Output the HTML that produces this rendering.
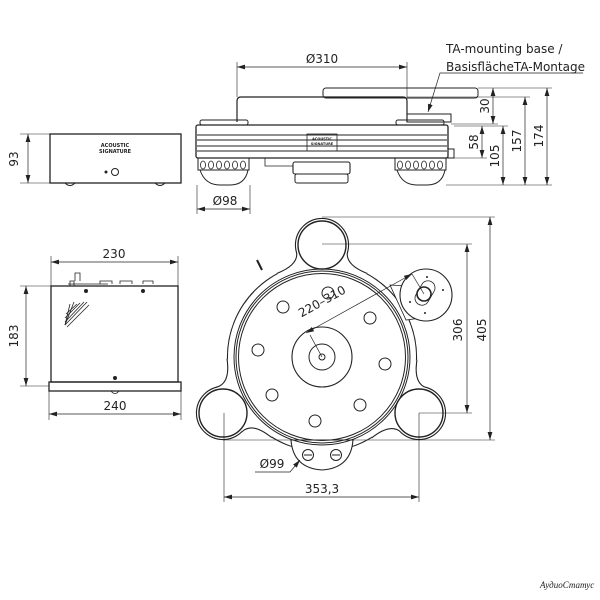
<!DOCTYPE html>
<html><head><meta charset="utf-8"><style>
html,body{margin:0;padding:0;background:#fff;}
svg{display:block;font-family:"DejaVu Sans","Liberation Sans",sans-serif;}
text{fill:#222;}
</style></head><body>
<svg width="600" height="600" viewBox="0 0 600 600" xmlns="http://www.w3.org/2000/svg">
<defs>
<marker id="a" viewBox="0 0 10 6" refX="10" refY="3" markerWidth="8" markerHeight="5" orient="auto-start-reverse" markerUnits="userSpaceOnUse"><path d="M0,0L10,3L0,6z" fill="#222"/></marker>
<path id="neck" d="M-25,-106 Q-22,-92 -45,-83 L45,-83 Q22,-92 25,-106 Z"/>
</defs>
<g stroke="#222" fill="none" stroke-width="1">
<rect x="50" y="134" width="131" height="49" stroke-width="1.3"/>
<path d="M65,183 q5,5 10,0 M155,183 q5,5 10,0"/>
<circle cx="115" cy="172" r="3.5"/><circle cx="106" cy="172" r="1" fill="#222"/>
<line x1="20" y1="134" x2="50" y2="134" stroke-width=".6"/>
<line x1="20" y1="183" x2="50" y2="183" stroke-width=".6"/>
<line x1="28" y1="134" x2="28" y2="183" marker-start="url(#a)" marker-end="url(#a)" stroke-width=".7"/>
<rect x="51" y="286" width="127" height="96" stroke-width="1.3"/>
<rect x="49" y="382" width="132" height="9" stroke-width="1.3"/>
<path d="M70,286 v-5 h4 v5 M75,281 v-8 h5 v8" stroke-width=".8"/>
<path d="M68,284 h40 M100,284 v-3 h12 v3 M120,284 v-3 h12 v3 M143,284 v-3 h10 v3" stroke-width=".8"/>
<circle cx="86" cy="291" r="1.5" fill="#222"/><circle cx="143" cy="291" r="1.5" fill="#222"/><circle cx="115" cy="378" r="1.5" fill="#222"/>
<path d="M111,391 q4,5 8,0" stroke-width=".8"/>
<g stroke-width=".8"><line x1="65" y1="325" x2="87" y2="302"/><line x1="65" y1="322" x2="84" y2="302"/><line x1="65" y1="318" x2="80" y2="303"/><line x1="66" y1="314" x2="77" y2="304"/><line x1="67" y1="327" x2="89" y2="305"/><line x1="65" y1="325" x2="74" y2="302"/><line x1="65" y1="325" x2="70" y2="304"/></g>
<line x1="51" y1="256" x2="51" y2="286" stroke-width=".6"/><line x1="178" y1="256" x2="178" y2="286" stroke-width=".6"/>
<line x1="51" y1="262" x2="178" y2="262" marker-start="url(#a)" marker-end="url(#a)" stroke-width=".7"/>
<line x1="20" y1="286" x2="51" y2="286" stroke-width=".6"/><line x1="20" y1="386" x2="49" y2="386" stroke-width=".6"/>
<line x1="26" y1="286" x2="26" y2="386" marker-start="url(#a)" marker-end="url(#a)" stroke-width=".7"/>
<line x1="49" y1="391" x2="49" y2="420" stroke-width=".6"/><line x1="181" y1="391" x2="181" y2="420" stroke-width=".6"/>
<line x1="49" y1="414" x2="181" y2="414" marker-start="url(#a)" marker-end="url(#a)" stroke-width=".7"/>

<rect x="323" y="88" width="155" height="10" rx="3" stroke-width="1"/>
<path d="M237,122 V101 q0,-4 4,-4 H403 q4,0 4,4 V122" stroke-width="1.2"/>
<rect x="407" y="114" width="44" height="8" stroke-width="1"/>
<rect x="200" y="120" width="48" height="5" rx="2"/>
<rect x="396" y="120" width="48" height="5" rx="2"/>
<rect x="196" y="125" width="252" height="33" rx="2" stroke-width="1.3"/>
<line x1="197" y1="135" x2="447" y2="135"/><line x1="197" y1="140" x2="447" y2="140"/><line x1="197" y1="146" x2="447" y2="146"/><line x1="197" y1="151" x2="447" y2="151"/>
<rect x="448" y="149" width="6" height="9"/>
<rect x="307" y="134" width="30" height="17" stroke-width=".8"/>
<path d="M198,158 V170 H249 V158 M200,170 q5,15 20,15 h10 q15,0 18,-15" stroke-width="1"/>
<path d="M395,158 V170 H446 V158 M397,170 q5,15 20,15 h10 q15,0 18,-15" stroke-width="1"/>
<g stroke-width=".8"><ellipse cx="203" cy="165" rx="2.5" ry="4"/><ellipse cx="211" cy="165" rx="2.5" ry="4"/><ellipse cx="219" cy="165" rx="2.5" ry="4"/><ellipse cx="227" cy="165" rx="2.5" ry="4"/><ellipse cx="235" cy="165" rx="2.5" ry="4"/><ellipse cx="243" cy="165" rx="2.5" ry="4"/>
<ellipse cx="400" cy="165" rx="2.5" ry="4"/><ellipse cx="408" cy="165" rx="2.5" ry="4"/><ellipse cx="416" cy="165" rx="2.5" ry="4"/><ellipse cx="424" cy="165" rx="2.5" ry="4"/><ellipse cx="432" cy="165" rx="2.5" ry="4"/><ellipse cx="440" cy="165" rx="2.5" ry="4"/></g>
<rect x="293" y="162" width="57" height="12" rx="2" stroke-width="1.1"/>
<rect x="295" y="174" width="53" height="9" rx="2"/>
<path d="M265,158 v8 h28" stroke-width=".8"/>
<line x1="237" y1="62" x2="237" y2="97" stroke-width=".6"/><line x1="407" y1="62" x2="407" y2="97" stroke-width=".6"/>
<line x1="237" y1="67" x2="407" y2="67" marker-start="url(#a)" marker-end="url(#a)" stroke-width=".7"/>
<line x1="197" y1="185" x2="197" y2="214" stroke-width=".6"/><line x1="250" y1="185" x2="250" y2="214" stroke-width=".6"/>
<line x1="197" y1="209" x2="250" y2="209" marker-start="url(#a)" marker-end="url(#a)" stroke-width=".7"/>
<line x1="478" y1="88" x2="552" y2="88" stroke-width=".6"/>
<line x1="407" y1="97" x2="530" y2="97" stroke-width=".6"/>
<line x1="451" y1="124" x2="498" y2="124" stroke-width=".6"/>
<line x1="454" y1="126" x2="508" y2="126" stroke-width=".6"/>
<line x1="454" y1="158" x2="487" y2="158" stroke-width=".6"/>
<line x1="446" y1="185" x2="552" y2="185" stroke-width=".6"/>
<line x1="493" y1="88" x2="493" y2="124" marker-start="url(#a)" marker-end="url(#a)" stroke-width=".7"/>
<line x1="482" y1="126" x2="482" y2="158" marker-start="url(#a)" marker-end="url(#a)" stroke-width=".7"/>
<line x1="503" y1="126" x2="503" y2="185" marker-start="url(#a)" marker-end="url(#a)" stroke-width=".7"/>
<line x1="525" y1="97" x2="525" y2="185" marker-start="url(#a)" marker-end="url(#a)" stroke-width=".7"/>
<line x1="547" y1="88" x2="547" y2="185" marker-start="url(#a)" marker-end="url(#a)" stroke-width=".7"/>
<path d="M583,73 H440 L428,112" stroke-width=".7" marker-end="url(#a)"/>

<!-- Top view body outline -->
<g stroke-width="2.2">
<circle cx="322" cy="357" r="94"/>
<circle cx="322" cy="245" r="26"/><circle cx="223" cy="413" r="26"/><circle cx="419" cy="413" r="26"/>
<use href="#neck" transform="translate(322 357)"/>
<use href="#neck" transform="translate(322 357) rotate(-119.5)"/>
<use href="#neck" transform="translate(322 357) rotate(120)"/>
</g>
<g stroke="none" fill="#fff">
<circle cx="322" cy="357" r="94"/>
<circle cx="322" cy="245" r="26"/><circle cx="223" cy="413" r="26"/><circle cx="419" cy="413" r="26"/>
<use href="#neck" transform="translate(322 357)"/>
<use href="#neck" transform="translate(322 357) rotate(-119.5)"/>
<use href="#neck" transform="translate(322 357) rotate(120)"/>
</g>
<path d="M291,440 H353 Q351,468 322,470 Q293,468 291,440 Z" fill="#fff" stroke-width="1.1"/>
<circle cx="308" cy="455" r="5.5"/><circle cx="336" cy="455" r="5.5"/>
<line x1="304" y1="455" x2="312" y2="455"/><line x1="332" y1="455" x2="340" y2="455"/>
<path d="M408,286 L390,285 L406,320 L420,318 Z" fill="#fff" stroke-width=".8"/>
<circle cx="426" cy="295" r="26" fill="#fff" stroke-width="1.1"/>
<rect x="412" y="286" width="26" height="14" rx="7" transform="rotate(-60 425 293)" stroke-width=".8"/>
<circle cx="424" cy="294" r="7" stroke-width="1.6"/>
<g fill="#222" stroke="none"><circle cx="427" cy="277" r="1"/><circle cx="443" cy="290" r="1"/><circle cx="410" cy="302" r="1"/><circle cx="425" cy="313" r="1"/></g>
<circle cx="322" cy="245" r="24" stroke-width="1.4"/>
<circle cx="223" cy="413" r="24" stroke-width="1.4"/>
<circle cx="419" cy="413" r="24" stroke-width="1.4"/>
<circle cx="322" cy="357" r="88"/><circle cx="322" cy="357" r="86"/><circle cx="322" cy="357" r="83.5"/>
<circle cx="322" cy="357" r="30" stroke-width="1.1"/><circle cx="322" cy="357" r="13"/><circle cx="322" cy="357" r="3"/>
<circle cx="328" cy="293" r="6"/><circle cx="370" cy="318" r="6"/><circle cx="385" cy="364" r="6"/><circle cx="360" cy="405" r="6"/>
<circle cx="315" cy="421" r="6"/><circle cx="272" cy="395" r="6"/><circle cx="258" cy="350" r="6"/><circle cx="283" cy="307" r="6"/>
<path d="M262,270 l-5,-10" stroke-width="2"/>
<line x1="322" y1="357" x2="310" y2="335" stroke-width=".7"/>
<line x1="306" y1="333" x2="412" y2="274" marker-start="url(#a)" marker-end="url(#a)" stroke-width=".7"/>
<line x1="424" y1="294" x2="412" y2="274" stroke-width=".7"/>
<line x1="322" y1="217" x2="495" y2="217" stroke-width=".6"/>
<line x1="322" y1="244" x2="472" y2="244" stroke-width=".6"/>
<line x1="419" y1="413" x2="472" y2="413" stroke-width=".6"/>
<line x1="223" y1="440" x2="495" y2="440" stroke-width=".6"/>
<line x1="467" y1="244" x2="467" y2="413" marker-start="url(#a)" marker-end="url(#a)" stroke-width=".7"/>
<line x1="490" y1="217" x2="490" y2="440" marker-start="url(#a)" marker-end="url(#a)" stroke-width=".7"/>
<line x1="224" y1="413" x2="224" y2="502" stroke-width=".6"/>
<line x1="419" y1="413" x2="419" y2="502" stroke-width=".6"/>
<line x1="224" y1="497" x2="419" y2="497" marker-start="url(#a)" marker-end="url(#a)" stroke-width=".7"/>
<path d="M255,472 H290 L300,460" stroke-width=".7" marker-end="url(#a)"/>
</g>
<g font-size="12">
<text x="18" y="159" transform="rotate(-90 18 159)" text-anchor="middle">93</text>
<text x="114" y="258" text-anchor="middle">230</text>
<text x="18" y="336" transform="rotate(-90 18 336)" text-anchor="middle">183</text>
<text x="115" y="410" text-anchor="middle">240</text>
<text x="322" y="63" text-anchor="middle">Ø310</text>
<text x="225" y="205" text-anchor="middle">Ø98</text>
<text x="446" y="53">TA-mounting base /</text>
<text x="446" y="71">BasisflächeTA-Montage</text>
<text x="489" y="106" transform="rotate(-90 489 106)" text-anchor="middle">30</text>
<text x="478" y="142" transform="rotate(-90 478 142)" text-anchor="middle">58</text>
<text x="499" y="156" transform="rotate(-90 499 156)" text-anchor="middle">105</text>
<text x="521" y="141" transform="rotate(-90 521 141)" text-anchor="middle">157</text>
<text x="543" y="136" transform="rotate(-90 543 136)" text-anchor="middle">174</text>
<text x="462" y="330" transform="rotate(-90 462 330)" text-anchor="middle">306</text>
<text x="486" y="330" transform="rotate(-90 486 330)" text-anchor="middle">405</text>
<text x="324" y="305" transform="rotate(-29 324 305)" text-anchor="middle">220–310</text>
<text x="322" y="493" text-anchor="middle">353,3</text>
<text x="272" y="468" text-anchor="middle">Ø99</text>
</g>
<g font-size="5" font-weight="bold"><text x="115" y="147" text-anchor="middle">ACOUSTIC</text><text x="115" y="153" text-anchor="middle">SIGNATURE</text>
<text x="322" y="140" text-anchor="middle" font-size="3.5">ACOUSTIC</text><text x="322" y="145" text-anchor="middle" font-size="3.5">SIGNATURE</text></g>
<text x="540" y="588" font-size="9" fill="#999" font-style="italic" font-family="Liberation Serif, serif">АудиоСтатус</text>
</svg>
</body></html>
